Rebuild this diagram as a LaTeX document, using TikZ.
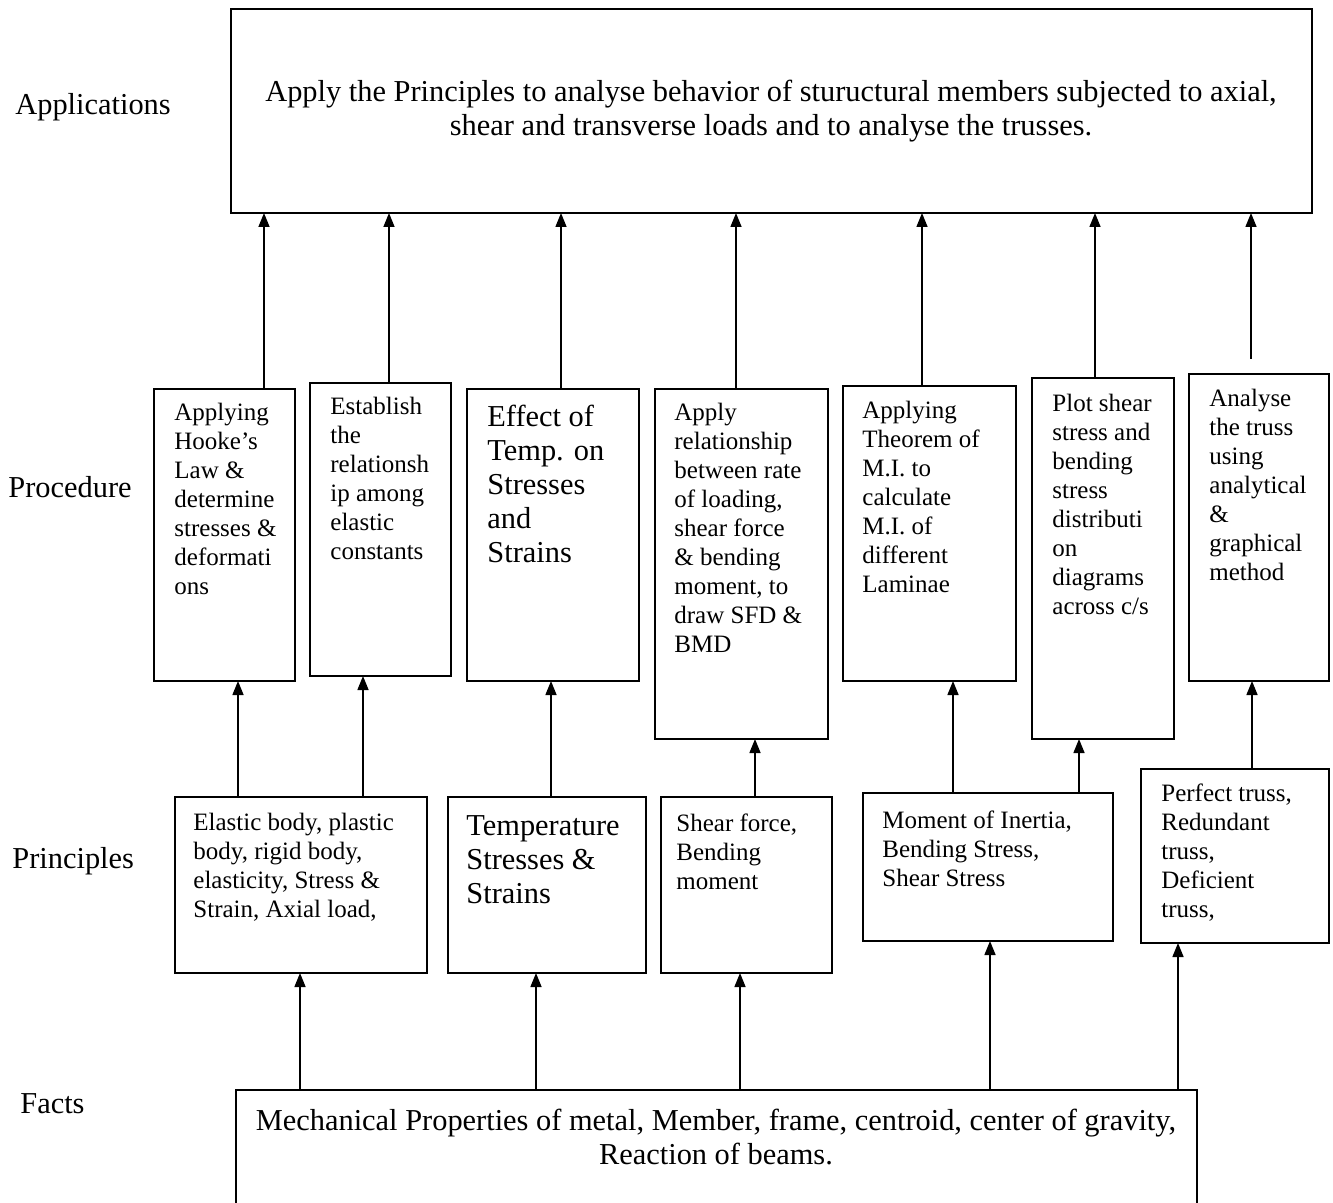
\documentclass[tikz,border=0pt]{standalone}
\usepackage{fontspec}
\setmainfont{Liberation Serif}
\usetikzlibrary{arrows.meta}
\newcommand{\smallf}{\fontsize{12.5pt}{14.5pt}\selectfont}
\newcommand{\largef}{\fontsize{15.2pt}{17pt}\selectfont}
\newcommand{\mybox}[5]{\node[boxst, anchor=north west, minimum width={(#4-#2)*0.5pt}, minimum height={(#5-#3)*0.5pt}] (#1) at (#2,#3) {};}
\begin{document}
\begin{tikzpicture}[x=0.5pt,y=-0.5pt,
  boxst/.style={draw, line width=1pt, inner sep=0pt, outer sep=0pt},
  txt/.style={inner sep=0pt, align=left, anchor=north west},
  arr/.style={line width=0.75pt, -{Triangle[length=7pt,width=5.5pt]}},
  lab/.style={inner sep=0pt, anchor=west, font=\largef}]
\useasboundingbox (0,0) rectangle (1333,1203);
% boxes
\mybox{app}{231}{9}{1312}{213}
\mybox{b1}{154}{389}{295}{681}
\mybox{b2}{310}{383}{451}{676}
\mybox{b3}{467}{389}{639}{681}
\mybox{b4}{655}{389}{828}{739}
\mybox{b5}{843}{386}{1016}{681}
\mybox{b6}{1032}{378}{1174}{739}
\mybox{b7}{1189}{374}{1329}{681}
\mybox{p1}{175}{797}{427}{973}
\mybox{p2}{448}{797}{646}{973}
\mybox{p3}{661}{797}{832}{973}
\mybox{p4}{863}{793}{1113}{941}
\mybox{p5}{1141}{769}{1329}{943}
\mybox{facts}{236}{1090}{1197}{1230}
% side labels
\node[lab] (lapp) at (15,107) {Applications};
\node[lab] (lproc) at (8,487) {Procedure};
\node[lab] (lprin) at (12,861) {Principles};
\node[lab] (lfact) at (20,1104) {Facts};
% texts
\node[align=center, inner sep=0pt, font=\largef] (tapp) at (771,111) {Apply the Principles to analyse behavior of stuructural members subjected to axial,\\shear and transverse loads and to analyse the trusses.};
\node[align=center, inner sep=0pt, font=\largef] (tfacts) at (716,1137) {Mechanical Properties of metal, Member, frame, centroid, center of gravity,\\Reaction of beams.};
\node[txt, font=\smallf] (tb1) at (174,403) {Applying\\Hooke’s\\Law \&\\determine\\stresses \&\\deformati\\ons};
\node[txt, font=\smallf] (tb2) at (330,397) {Establish\\the\\relationsh\\ip among\\elastic\\constants};
\node[txt, font=\largef] (tb3) at (487,405) {Effect of\\Temp. on\\Stresses\\and\\Strains};
\node[txt, font=\smallf] (tb4) at (674,403) {Apply\\relationship\\between rate\\of loading,\\shear force\\\& bending\\moment, to\\draw SFD \&\\BMD};
\node[txt, font=\smallf] (tb5) at (862,401) {Applying\\Theorem of\\M.I. to\\calculate\\M.I. of\\different\\Laminae};
\node[txt, font=\smallf] (tb6) at (1052,394) {Plot shear\\stress and\\bending\\stress\\distributi\\on\\diagrams\\across c/s};
\node[txt, font=\smallf] (tb7) at (1209,389) {Analyse\\the truss\\using\\analytical\\\&\\graphical\\method};
\node[txt, font=\smallf] (tp1) at (193,813) {Elastic body, plastic\\body, rigid body,\\elasticity, Stress \&\\Strain, Axial load,};
\node[txt, font=\largef] (tp2) at (466,815) {Temperature\\Stresses \&\\Strains};
\node[txt, font=\smallf] (tp3) at (676,813) {Shear force,\\Bending\\moment};
\node[txt, font=\smallf] (tp4) at (882,810) {Moment of Inertia,\\Bending Stress,\\Shear Stress};
\node[txt, font=\smallf] (tp5) at (1161,783) {Perfect truss,\\Redundant\\truss,\\Deficient\\truss,};
% x coordinates for connectors
\coordinate (a1) at (264,0); \coordinate (a2) at (389,0); \coordinate (a3) at (561,0);
\coordinate (a4) at (736,0); \coordinate (a5) at (922,0); \coordinate (a6) at (1095,0);
\coordinate (a7s) at (1251,359);
\coordinate (c1) at (238,0); \coordinate (c2) at (363,0); \coordinate (c3) at (551,0);
\coordinate (c4) at (755,0); \coordinate (c5) at (953,0); \coordinate (c6) at (1079,0);
\coordinate (c7) at (1252,0);
\coordinate (d1) at (300,0); \coordinate (d2) at (536,0); \coordinate (d3) at (740,0);
\coordinate (d4) at (990,0); \coordinate (d5) at (1178,0);
% procedure -> applications
\draw[arr] (b1.north -| a1) -- (app.south -| a1);
\draw[arr] (b2.north -| a2) -- (app.south -| a2);
\draw[arr] (b3.north -| a3) -- (app.south -| a3);
\draw[arr] (b4.north -| a4) -- (app.south -| a4);
\draw[arr] (b5.north -| a5) -- (app.south -| a5);
\draw[arr] (b6.north -| a6) -- (app.south -| a6);
\draw[arr] (a7s) -- (app.south -| a7s);
% principles -> procedure
\draw[arr] (p1.north -| c1) -- (b1.south -| c1);
\draw[arr] (p1.north -| c2) -- (b2.south -| c2);
\draw[arr] (p2.north -| c3) -- (b3.south -| c3);
\draw[arr] (p3.north -| c4) -- (b4.south -| c4);
\draw[arr] (p4.north -| c5) -- (b5.south -| c5);
\draw[arr] (p4.north -| c6) -- (b6.south -| c6);
\draw[arr] (p5.north -| c7) -- (b7.south -| c7);
% facts -> principles
\draw[arr] (facts.north -| d1) -- (p1.south -| d1);
\draw[arr] (facts.north -| d2) -- (p2.south -| d2);
\draw[arr] (facts.north -| d3) -- (p3.south -| d3);
\draw[arr] (facts.north -| d4) -- (p4.south -| d4);
\draw[arr] (facts.north -| d5) -- (p5.south -| d5);
\end{tikzpicture}
\end{document}
